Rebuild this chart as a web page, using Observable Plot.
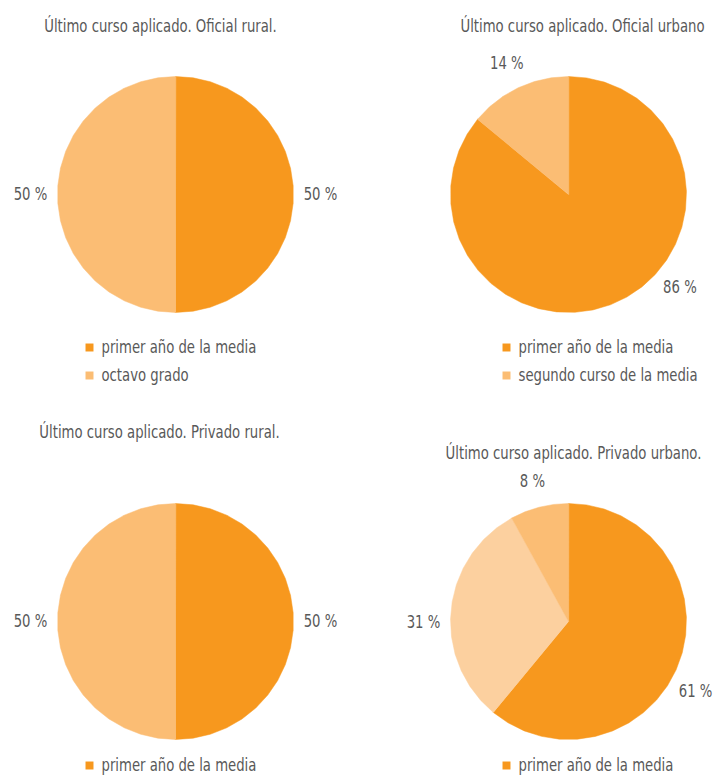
<!DOCTYPE html>
<html>
<head>
<meta charset="utf-8">
<script src="https://cdn.jsdelivr.net/npm/d3@7"></script>
<script src="https://cdn.jsdelivr.net/npm/@observablehq/plot@0.6"></script>
<style>
  html, body { margin: 0; padding: 0; background: #fff; }
  #chart svg { display: block; }
</style>
</head>
<body>
<div id="chart"></div>
<script>
// ---- Data ----
const titles = [
  "Último curso aplicado. Oficial rural.",
  "Último curso aplicado. Oficial urbano",
  "Último curso aplicado. Privado rural.",
  "Último curso aplicado. Privado urbano."
];
const oficialRuralCats = ["primer año de la media", "octavo grado"];
const oficialRuralVals = [50, 50];
const oficialUrbanoCats = ["primer año de la media", "segundo curso de la media"];
const oficialUrbanoVals = [86, 14];
const privadoRuralCats = ["primer año de la media", "octavo grado"];
const privadoRuralVals = [50, 50];
const privadoUrbanoCats = ["primer año de la media", "segundo curso de la media", "octavo grado"];
const privadoUrbanoVals = [61, 31, 8];

// ---- Layout / style (not data) ----
const W = 716, H = 778;
const R = 118, labelR = 145;
const centers = [[175, 194], [568, 194], [175, 621], [568, 621]];
const titleY = [26, 26, 432, 453];
const titleX = [160, 582, 159, 573];
const legendX = [89, 506, 89, 506];
const legendY = [347, 347, 765, 765];
const legendStep = 28;
const labelAngleTweak = [[0, 0], [-25, 0], [0, 0], [9, -6, 0]];
const sliceColors = ["#F7981E", "#FBBD74", "#FCD09F"];
const colorFor = (pieIdx, sliceIdx) => {
  if (pieIdx === 3) return ["#F7981E", "#FCD09F", "#FBBD74"][sliceIdx];
  return sliceColors[sliceIdx];
};
const textColor = "#595959";
const font = "'DejaVu Sans Condensed', 'DejaVu Sans', sans-serif";
const condense = 0.865;

const pies = [
  {cats: oficialRuralCats, vals: oficialRuralVals},
  {cats: oficialUrbanoCats, vals: oficialUrbanoVals},
  {cats: privadoRuralCats, vals: privadoRuralVals},
  {cats: privadoUrbanoCats, vals: privadoUrbanoVals}
];

// ---- Build geometry from the values ----
const polyPts = [];
const labels = [];
const legendRows = [];
const titleRows = [];
const segs = 40;
pies.forEach((p, pi) => {
  const [cx, cy] = centers[pi];
  const arcs = d3.pie().sort(null).value(d => d)(p.vals);
  arcs.forEach((a, si) => {
    const key = pi + "-" + si;
    const color = colorFor(pi, si);
    polyPts.push({key, x: cx, y: cy, color});
    const n = Math.max(1, Math.ceil((a.endAngle - a.startAngle) / (2 * Math.PI) * segs));
    for (let k = 0; k <= n; k++) {
      const t = a.startAngle + (a.endAngle - a.startAngle) * k / n;
      polyPts.push({key, x: cx + R * Math.sin(t), y: cy - R * Math.cos(t), color});
    }
    const mid = (a.startAngle + a.endAngle) / 2 + (labelAngleTweak[pi][si] || 0) * Math.PI / 180;
    labels.push({x: cx + labelR * Math.sin(mid), y: cy - labelR * Math.cos(mid), text: p.vals[si] + " %"});
    legendRows.push({x: legendX[pi], y: legendY[pi] + si * legendStep, text: p.cats[si], color});
  });
  titleRows.push({x: titleX[pi], y: titleY[pi], text: titles[pi]});
});

const chart = Plot.plot({
  width: W,
  height: H,
  margin: 0,
  x: {domain: [0, W], range: [0, W], axis: null},
  y: {domain: [0, H], range: [0, H], axis: null},
  style: {fontFamily: font, background: "#fff"},
  marks: [
    Plot.line(polyPts, {x: "x", y: "y", z: "key", fill: "color", stroke: "color", strokeWidth: 0.5, curve: "linear-closed"}),
    Plot.text(titleRows, {x: "x", y: "y", text: "text", fill: textColor, fontSize: 17, textAnchor: "middle"}),
    Plot.text(labels, {x: "x", y: "y", text: "text", fill: textColor, fontSize: 17, textAnchor: "middle"}),
    Plot.dot(legendRows, {x: "x", y: "y", symbol: "square", r: 4.5, fill: "color", stroke: null}),
    Plot.text(legendRows, {x: d => d.x + 12, y: "y", text: "text", fill: textColor, fontSize: 17, textAnchor: "start"})
  ]
});
document.getElementById("chart").appendChild(chart);

// Narrow the text to mimic the condensed typeface of the reference
chart.querySelectorAll("text").forEach(t => {
  const len = t.getComputedTextLength();
  if (len > 0) {
    t.setAttribute("textLength", (len * condense).toFixed(1));
    t.setAttribute("lengthAdjust", "spacingAndGlyphs");
  }
});
</script>
</body>
</html>
